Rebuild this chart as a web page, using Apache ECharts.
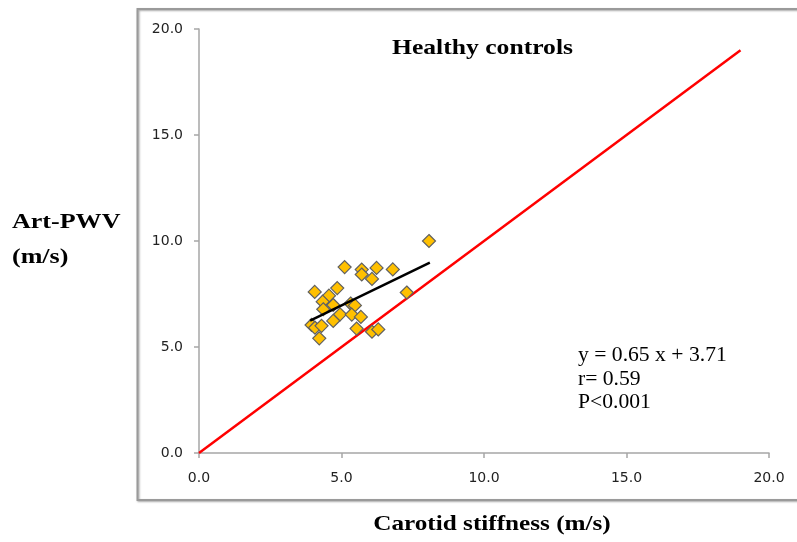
<!DOCTYPE html>
<html>
<head>
<meta charset="utf-8">
<script src="https://cdn.jsdelivr.net/npm/echarts@6/dist/echarts.min.js"></script>
<style>
html,body{margin:0;padding:0;background:#fff;}
#main{width:797px;height:542px;}
</style>
</head>
<body>
<div id="main"></div>
<script>
// Carotid stiffness (x) vs Art-PWV (y), healthy controls
var carotidStiffness = [8.07, 5.11, 5.71, 5.71, 6.23, 6.07, 6.80, 7.29, 4.06, 4.85, 4.56, 4.34, 4.36, 4.71, 5.32, 5.47, 4.95, 5.36, 5.68, 4.71, 3.95, 4.07, 4.30, 5.53, 6.07, 6.29, 4.22];
var artPWV        = [10.0, 8.77, 8.65, 8.42, 8.73, 8.21, 8.66, 7.57, 7.60, 7.78, 7.42, 7.14, 6.78, 6.98, 7.05, 6.96, 6.54, 6.53, 6.42, 6.23, 6.04, 5.91, 6.00, 5.87, 5.72, 5.83, 5.41];
var identityX = [0, 19];
var identityY = [0, 19];
var trendX = [3.9, 8.1];
var trendY = [6.24, 8.98];
var axisTicks = [0, 5, 10, 15, 20];
var titleText = 'Healthy controls';
var statLines = ['y = 0.65 x + 3.71', 'r= 0.59', 'P<0.001'];
var yTitleLines = ['Art-PWV', '(m/s)'];
var xTitle = 'Carotid stiffness (m/s)';

function pairs(xs, ys){ return xs.map(function(v,i){ return [v, ys[i]]; }); }

var chart = echarts.init(document.getElementById('main'), null, {renderer:'canvas'});
var axisCommon = {
  type:'value', min:axisTicks[0], max:axisTicks[axisTicks.length-1], interval:axisTicks[1]-axisTicks[0],
  axisLine:{show:true, lineStyle:{color:'#a6a6a6', width:1.5}},
  axisTick:{show:true, inside:false, length:5, lineStyle:{color:'#a6a6a6', width:1.5}},
  splitLine:{show:false},
  axisLabel:{color:'#222', fontFamily:'DejaVu Sans', fontSize:14, formatter:function(v){return v.toFixed(1);}}
};
var serifBold = 'bold 21px "Liberation Serif", "Times New Roman", serif';
chart.setOption({
  animation:false,
  grid:{left:199, right:28, top:29, bottom:89, containLabel:false},
  xAxis: echarts.util.merge({axisLabel:{margin:18}}, axisCommon, false),
  yAxis: echarts.util.merge({axisLabel:{margin:16}}, axisCommon, false),
  graphic:[
    {type:'rect', shape:{x:137.5, y:9, width:700, height:491}, style:{fill:'none', stroke:'#9a9a9a', lineWidth:2, shadowColor:'rgba(0,0,0,0.35)', shadowBlur:2, shadowOffsetX:1, shadowOffsetY:1}, z:-1, silent:true},
    {type:'text', x:392, y:49, scaleX:1.22, style:{text:titleText, font:serifBold, fill:'#000', textAlign:'left', textVerticalAlign:'middle'}},
    {type:'text', x:12, y:223, scaleX:1.24, style:{text:yTitleLines[0], font:serifBold, fill:'#000', textAlign:'left', textVerticalAlign:'middle'}},
    {type:'text', x:12, y:258, scaleX:1.24, style:{text:yTitleLines[1], font:serifBold, fill:'#000', textAlign:'left', textVerticalAlign:'middle'}},
    {type:'text', x:492, y:525, scaleX:1.2, originX:0, style:{text:xTitle, font:serifBold, fill:'#000', textAlign:'center', textVerticalAlign:'middle'}},
    {type:'text', x:578, y:355, scaleX:1.03, style:{text:statLines[0], font:'21px "Liberation Serif", "Times New Roman", serif', fill:'#000', textAlign:'left', textVerticalAlign:'middle'}},
    {type:'text', x:578, y:379, scaleX:1.03, style:{text:statLines[1], font:'21px "Liberation Serif", "Times New Roman", serif', fill:'#000', textAlign:'left', textVerticalAlign:'middle'}},
    {type:'text', x:578, y:402, scaleX:1.03, style:{text:statLines[2], font:'21px "Liberation Serif", "Times New Roman", serif', fill:'#000', textAlign:'left', textVerticalAlign:'middle'}}
  ],
  series:[
    {type:'line', data:pairs(identityX, identityY), showSymbol:false, symbol:'none', lineStyle:{color:'#ff0000', width:2.5}, z:2, silent:true},
    {type:'scatter', data:pairs(carotidStiffness, artPWV), symbol:'diamond', symbolSize:13,
     itemStyle:{color:'#ffc000', borderColor:'#606060', borderWidth:1.2, opacity:1}, z:3},
    {type:'line', data:pairs(trendX, trendY), showSymbol:false, symbol:'none', lineStyle:{color:'#000', width:2.5}, z:4, silent:true}
  ]
});
</script>
</body>
</html>
